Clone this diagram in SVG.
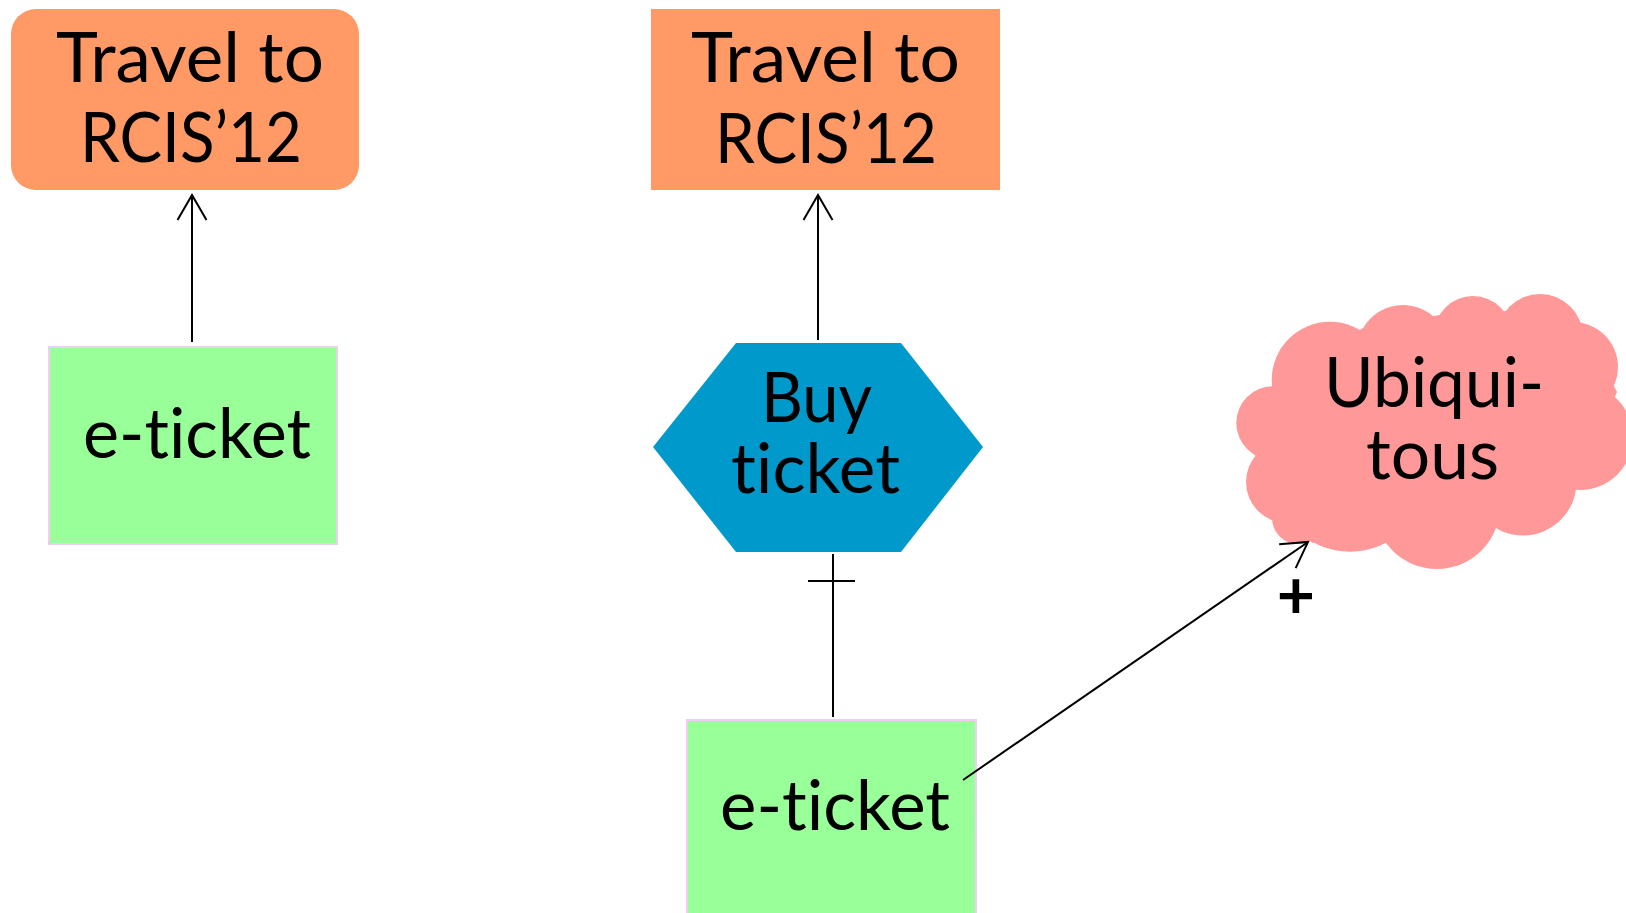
<svg xmlns="http://www.w3.org/2000/svg" width="1626" height="913" viewBox="0 0 1626 913">
<style>
.t{font-family:Lato,"Open Sans","Liberation Sans",sans-serif;font-size:70px;fill:#000;font-variant-ligatures:none;font-feature-settings:"liga" 0,"clig" 0}
.goal{fill:#ff9966}
.res{fill:#99ff99;stroke:#f2cdf2;stroke-width:2}
.task{fill:#0099cc}
.soft{fill:#ff9999}
.ln{fill:none;stroke:#000;stroke-width:2}
</style>
<defs>
<marker id="open" markerUnits="userSpaceOnUse" viewBox="-32 -20 42 40" markerWidth="42" markerHeight="40" refX="0" refY="0" orient="auto">
<path d="M-25,-14.5 L0,0 L-25,14.5" fill="none" stroke="#000" stroke-width="2"/>
</marker>
</defs>
<g id="goal1">
<rect class="goal" x="11" y="9" width="348" height="181" rx="25"/>
<text class="t" x="56" y="82" textLength="268" lengthAdjust="spacingAndGlyphs">Travel to</text>
<text class="t" x="80" y="162" textLength="222" lengthAdjust="spacingAndGlyphs">RCIS’12</text>
</g>
<g id="res1">
<rect class="res" x="49" y="347" width="288" height="197"/>
<text class="t" x="83" y="458" textLength="228" lengthAdjust="spacingAndGlyphs">e-ticket</text>
</g>
<g id="goal2">
<rect class="goal" x="651" y="9" width="349" height="181"/>
<text class="t" x="691" y="82" textLength="269" lengthAdjust="spacingAndGlyphs">Travel to</text>
<text class="t" x="715" y="163" textLength="222" lengthAdjust="spacingAndGlyphs">RCIS’12</text>
</g>
<g id="task">
<polygon class="task" points="653,447 736,343 901,343 983,447 901,552 736,552"/>
<text class="t" x="761" y="422" textLength="111" lengthAdjust="spacingAndGlyphs">Buy</text>
<text class="t" x="731" y="493" textLength="169" lengthAdjust="spacingAndGlyphs">ticket</text>
</g>
<g id="res2">
<rect class="res" x="687" y="720" width="289" height="200"/>
<text class="t" x="720" y="830" textLength="230" lengthAdjust="spacingAndGlyphs">e-ticket</text>
</g>
<g id="softgoal">
<g class="soft">
<polygon points="1272,387 1363,328 1440,315 1507,311 1585,331 1617,392 1577,485 1495,528 1385,543 1313,543 1273,517 1255,455"/>
<circle cx="1330" cy="380" r="58.3"/>
<circle cx="1403" cy="351" r="46"/>
<circle cx="1473" cy="335" r="39"/>
<circle cx="1540" cy="337" r="43"/>
<circle cx="1573" cy="367" r="45"/>
<circle cx="1580" cy="437" r="53"/>
<circle cx="1523" cy="482" r="53.5"/>
<circle cx="1437" cy="506" r="63"/>
<circle cx="1350" cy="474" r="77.7"/>
<circle cx="1298" cy="518" r="26"/>
<circle cx="1287" cy="482" r="41"/>
<circle cx="1273" cy="423" r="36.7"/>
</g>
<text class="t" x="1324" y="407" textLength="220" lengthAdjust="spacingAndGlyphs">Ubiqui-</text>
<text class="t" x="1366" y="479" textLength="133" lengthAdjust="spacingAndGlyphs">tous</text>
</g>
<g id="connectors">
<line class="ln" x1="192" y1="342" x2="192" y2="195" marker-end="url(#open)"/>
<line class="ln" x1="818" y1="340" x2="818" y2="195" marker-end="url(#open)"/>
<path class="ln" d="M833,554 V717 M808,581 H855"/>
<line class="ln" x1="963" y1="780" x2="1308" y2="542" marker-end="url(#open)"/>
<text x="1296" y="619" text-anchor="middle" style="font-family:Lato,'Liberation Sans',sans-serif;font-size:66px;font-weight:bold">+</text>
</g>
</svg>
